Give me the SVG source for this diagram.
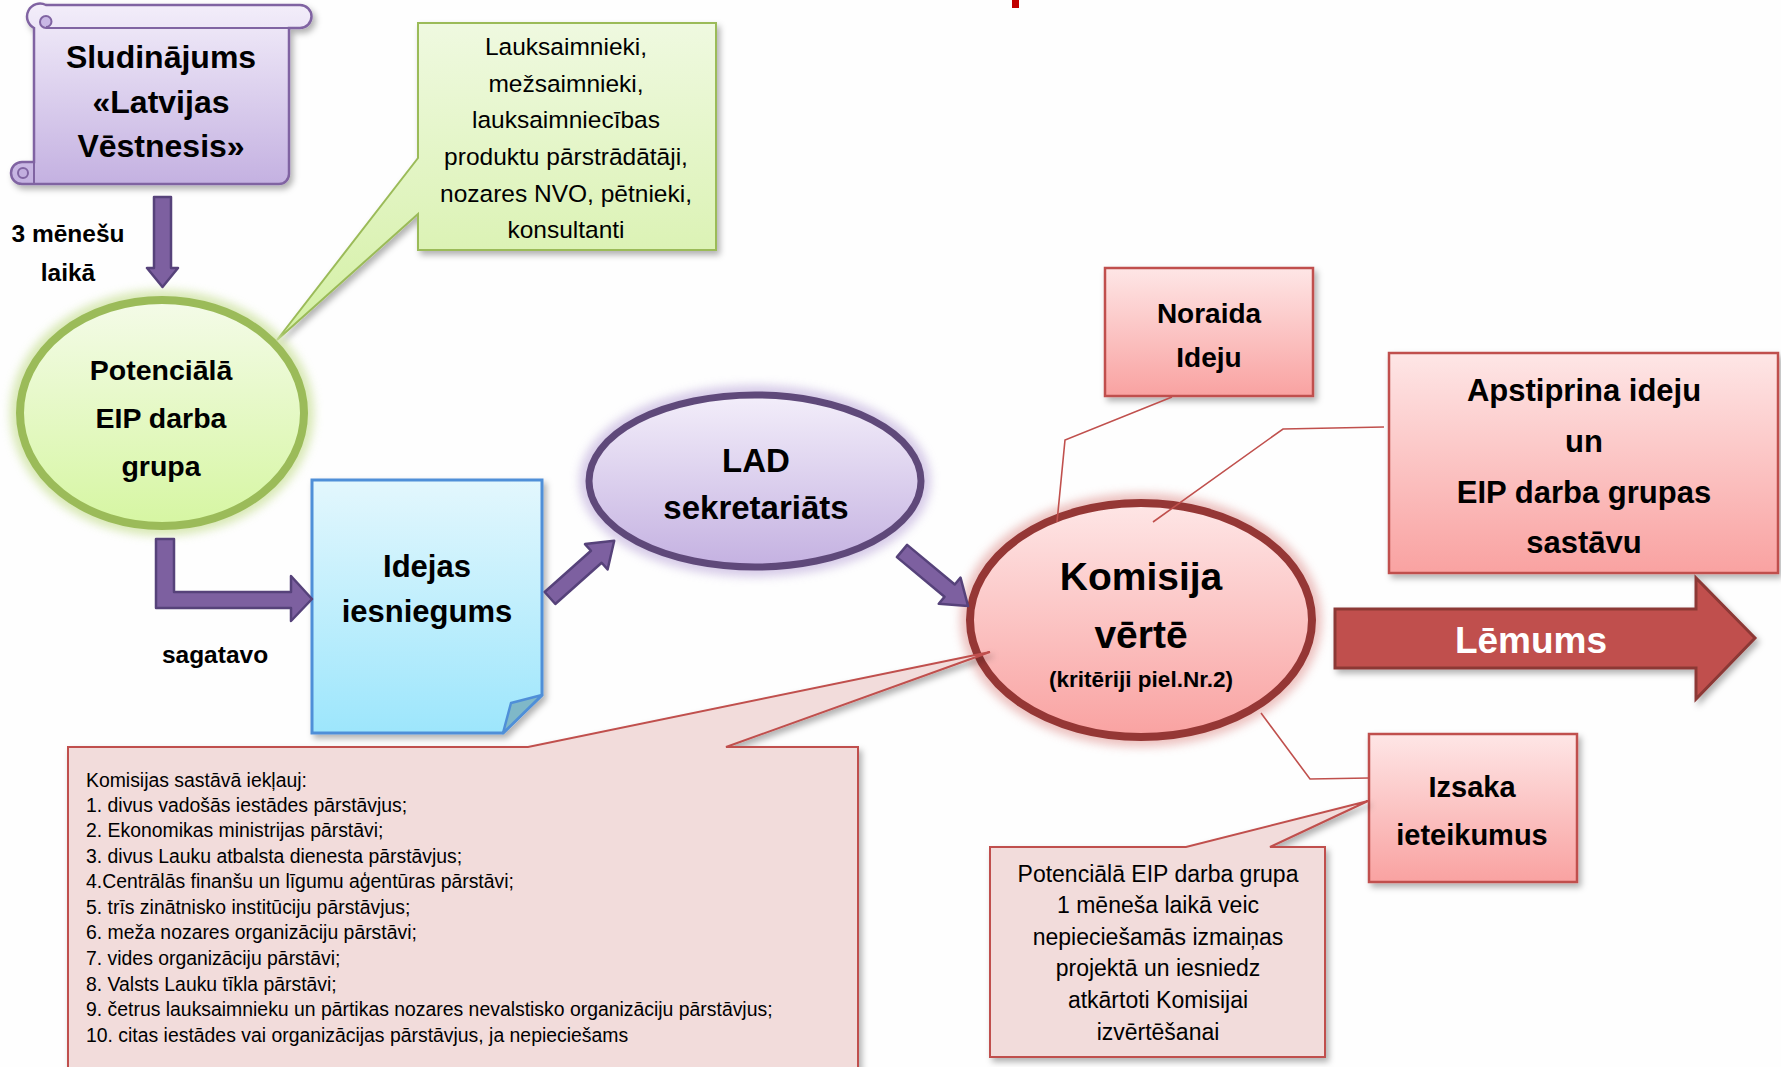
<svg xmlns="http://www.w3.org/2000/svg" width="1781" height="1067" viewBox="0 0 1781 1067">
<defs>
<style>
.t{font-family:"Liberation Sans",Arial,sans-serif;fill:#000}
.b{font-weight:bold}
.c{text-anchor:middle}
.parrow{fill:#7d60a0;stroke:#56427a;stroke-width:2.5;stroke-linejoin:round}
.redbox{fill:url(#gRed);stroke:#c0504d;stroke-width:2.5}
.pinkcall{fill:#f2dcdb;stroke:#c0504d;stroke-width:2}
.rline{fill:none;stroke:#c0504d;stroke-width:1.6}
</style>
<linearGradient id="gPurple" x1="0" y1="0" x2="0" y2="1"><stop offset="0" stop-color="#f3eefa"/><stop offset="1" stop-color="#c4b1e1"/></linearGradient>
<linearGradient id="gGreen" x1="0" y1="0" x2="0" y2="1"><stop offset="0" stop-color="#f4fbe8"/><stop offset="1" stop-color="#d6f6a2"/></linearGradient>
<linearGradient id="gGreenBox" x1="0" y1="0" x2="0" y2="1"><stop offset="0" stop-color="#eff9e0"/><stop offset="1" stop-color="#d4f0a4"/></linearGradient>
<linearGradient id="gBlue" x1="0" y1="0" x2="0" y2="1"><stop offset="0" stop-color="#e3f7fd"/><stop offset="1" stop-color="#9de6fc"/></linearGradient>
<linearGradient id="gRed" x1="0" y1="0" x2="0" y2="1"><stop offset="0" stop-color="#fee6e6"/><stop offset="1" stop-color="#f9a2a1"/></linearGradient>
<filter id="shadow" x="-10%" y="-10%" width="130%" height="130%"><feDropShadow dx="3" dy="4" stdDeviation="3" flood-color="#000" flood-opacity="0.3"/></filter>
<filter id="blur" x="-20%" y="-20%" width="140%" height="140%"><feGaussianBlur stdDeviation="5"/></filter>
</defs>
<rect width="1781" height="1067" fill="#fefefe"/>
<rect x="1012" y="0" width="7" height="8" fill="#c00000"/>

<g id="node-callout-green">
<path d="M418,23 H716 V250 H418 V214 L277,340 L418,158 Z" fill="url(#gGreenBox)" stroke="#9bbb59" stroke-width="2" filter="url(#shadow)"/>
<text class="t c" font-size="24.5" x="566"><tspan x="566" y="55">Lauksaimnieki,</tspan><tspan x="566" y="92">mežsaimnieki,</tspan><tspan x="566" y="128">lauksaimniecības</tspan><tspan x="566" y="165">produktu pārstrādātāji,</tspan><tspan x="566" y="202">nozares NVO, pētnieki,</tspan><tspan x="566" y="238">konsultanti</tspan></text>
</g>

<g id="node-sludinajums">
<path d="M46,5 H300 A11.5,11.5 0 0 1 300,28 H289 V174 A10,10 0 0 1 279,184 H22 A11,11 0 0 1 22,162 H34 V28 A11.5,11.5 0 0 1 46,5 Z" fill="url(#gPurple)" stroke="#8064a2" stroke-width="2.5" filter="url(#shadow)"/>
<path d="M46,28 H289" fill="none" stroke="#8064a2" stroke-width="2"/>
<path d="M46,28 A6,6 0 1 1 46,16 A5.5,5.5 0 0 1 46,27" fill="#c9b8e5" stroke="#8064a2" stroke-width="2"/>
<path d="M34,162 V184" fill="none" stroke="#8064a2" stroke-width="2"/>
<circle cx="23" cy="173" r="5" fill="#c2aedf" stroke="#8064a2" stroke-width="2"/>
<text class="t b c" font-size="32"><tspan x="161" y="68">Sludinājums</tspan><tspan x="161" y="113">«Latvijas</tspan><tspan x="161" y="157">Vēstnesis»</tspan></text>
</g>

<g id="label-3menesu">
<text class="t b c" font-size="24.5"><tspan x="68" y="242">3 mēnešu</tspan><tspan x="68" y="281">laikā</tspan></text>
</g>

<g id="label-sagatavo">
<text class="t b c" font-size="24.5" x="215" y="663">sagatavo</text>
</g>

<g id="node-potenciala">
<ellipse cx="162" cy="413" rx="142" ry="113" fill="none" stroke="#cfe3a2" stroke-width="20" filter="url(#blur)" opacity="0.8"/>
<ellipse cx="162" cy="413" rx="142" ry="113" fill="url(#gGreen)" stroke="#9bbb59" stroke-width="8"/>
<text class="t b c" font-size="28.5"><tspan x="161" y="380">Potenciālā</tspan><tspan x="161" y="428">EIP darba</tspan><tspan x="161" y="476">grupa</tspan></text>
</g>

<g id="node-idejas">
<path d="M312,480 H542 V695 L503,733 H312 Z" fill="url(#gBlue)" stroke="#4f8fd8" stroke-width="3" filter="url(#shadow)"/>
<path d="M542,695 L511,703 L503,733 Z" fill="#7fb8c8" stroke="#4f8fd8" stroke-width="2.5" stroke-linejoin="round"/>
<text class="t b c" font-size="31"><tspan x="427" y="577">Idejas</tspan><tspan x="427" y="622">iesniegums</tspan></text>
</g>

<g id="node-lad">
<ellipse cx="755" cy="481" rx="166" ry="86" fill="none" stroke="#cdbfe3" stroke-width="20" filter="url(#blur)" opacity="0.8"/>
<ellipse cx="755" cy="481" rx="166" ry="86" fill="url(#gPurple)" stroke="#5f497a" stroke-width="7"/>
<text class="t b c" font-size="33"><tspan x="756" y="472">LAD</tspan><tspan x="756" y="519">sekretariāts</tspan></text>
</g>

<g id="node-komisija">
<ellipse cx="1141" cy="620" rx="171" ry="117" fill="none" stroke="#e8b2b0" stroke-width="20" filter="url(#blur)" opacity="0.8"/>
<ellipse cx="1141" cy="620" rx="171" ry="117" fill="url(#gRed)" stroke="#953735" stroke-width="8"/>
<text class="t b c" font-size="39"><tspan x="1141" y="590">Komisija</tspan><tspan x="1141" y="648">vērtē</tspan></text>
<text class="t b c" font-size="22.5" x="1141" y="687">(kritēriji piel.Nr.2)</text>
</g>

<g id="node-noraida">
<rect x="1105" y="268" width="208" height="128" class="redbox" filter="url(#shadow)"/>
<text class="t b c" font-size="28"><tspan x="1209" y="323">Noraida</tspan><tspan x="1209" y="367">Ideju</tspan></text>
</g>

<g id="node-apstiprina">
<rect x="1389" y="353" width="389" height="220" class="redbox" stroke-width="4" filter="url(#shadow)"/>
<text class="t b c" font-size="31"><tspan x="1584" y="401">Apstiprina ideju</tspan><tspan x="1584" y="452">un</tspan><tspan x="1584" y="503">EIP darba grupas</tspan><tspan x="1584" y="553">sastāvu</tspan></text>
</g>

<g id="node-lemums">
<path d="M1335,609 H1696 V578 L1755,638 L1696,699 V668 H1335 Z" fill="#c0504d" stroke="#8c3836" stroke-width="3" stroke-linejoin="miter" filter="url(#shadow)"/>
<text class="t b c" font-size="37" style="fill:#fff" x="1531" y="653">Lēmums</text>
</g>

<g id="node-izsaka">
<rect x="1369" y="734" width="208" height="148" class="redbox" filter="url(#shadow)"/>
<text class="t b c" font-size="29"><tspan x="1472" y="797">Izsaka</tspan><tspan x="1472" y="845">ieteikumus</tspan></text>
</g>

<g id="node-callout-komisijas-sastavs">
<path d="M68,747 H528 L990,652 L726,747 H858 V1080 H68 Z" class="pinkcall" filter="url(#shadow)"/>
<text class="t" font-size="19.4"><tspan x="86" y="787">Komisijas sastāvā iekļauj:</tspan><tspan x="86" y="812">1. divus vadošās iestādes pārstāvjus;</tspan><tspan x="86" y="837">2. Ekonomikas ministrijas pārstāvi;</tspan><tspan x="86" y="863">3. divus Lauku atbalsta dienesta pārstāvjus;</tspan><tspan x="86" y="888">4.Centrālās finanšu un līgumu aģentūras pārstāvi;</tspan><tspan x="86" y="914">5. trīs zinātnisko institūciju pārstāvjus;</tspan><tspan x="86" y="939">6. meža nozares organizāciju pārstāvi;</tspan><tspan x="86" y="965">7. vides organizāciju pārstāvi;</tspan><tspan x="86" y="991">8. Valsts Lauku tīkla pārstāvi;</tspan><tspan x="86" y="1016">9. četrus lauksaimnieku un pārtikas nozares nevalstisko organizāciju pārstāvjus;</tspan><tspan x="86" y="1042">10. citas iestādes vai organizācijas pārstāvjus, ja nepieciešams</tspan></text>
</g>

<g id="node-callout-izsaka">
<path d="M990,847 H1186 L1368,801 L1270,847 H1325 V1057 H990 Z" class="pinkcall" filter="url(#shadow)"/>
<text class="t c" font-size="23"><tspan x="1158" y="882">Potenciālā EIP darba grupa</tspan><tspan x="1158" y="913">1 mēneša laikā veic</tspan><tspan x="1158" y="945">nepieciešamās izmaiņas</tspan><tspan x="1158" y="976">projektā un iesniedz</tspan><tspan x="1158" y="1008">atkārtoti Komisijai</tspan><tspan x="1158" y="1040">izvērtēšanai</tspan></text>
</g>

<g id="connectors">
<path class="parrow" d="M154,197 H171 V268 H178 L162.5,287 L147,268 H154 Z"/>
<path class="parrow" d="M156,539 H174 V592 H291 V576 L312,599 L291,621 V608 H156 Z"/>
<path class="parrow" transform="translate(550,598) rotate(-41.7)" d="M0,-8 H62 V-17 L86,0 L62,17 V8 H0 Z"/>
<path class="parrow" transform="translate(902,551) rotate(39.8)" d="M0,-8 H62 V-17 L86,0 L62,17 V8 H0 Z"/>
<polyline class="rline" points="1172,397 1065,440 1057,522"/>
<polyline class="rline" points="1384,427 1283,429 1153,522" stroke-width="4"/>
<polyline class="rline" points="1261,713 1310,779 1369,778"/>
</g>
</svg>
